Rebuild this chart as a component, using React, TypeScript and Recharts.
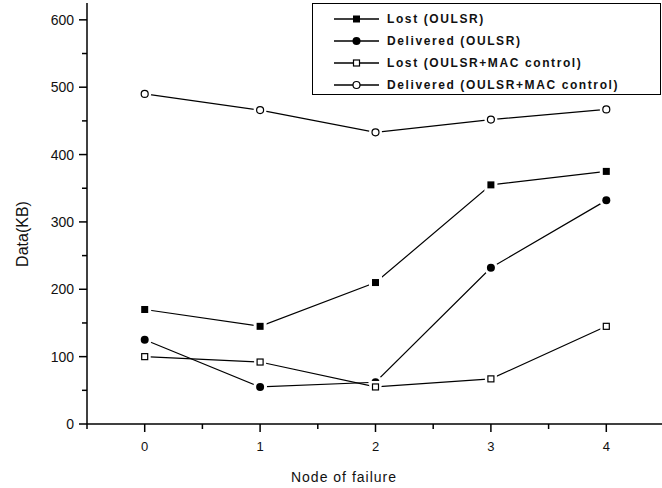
import { LineChart, Line, XAxis, YAxis, Legend } from 'recharts';

// Node of failure (x) and data amounts in KB
const nodes = [0, 1, 2, 3, 4];
const lostOulsr = [170, 145, 210, 355, 375];
const deliveredOulsr = [125, 55, 62, 232, 332];
const lostMac = [100, 92, 55, 67, 145];
const deliveredMac = [490, 466, 433, 452, 467];

const xTicks = [-0.5, 0, 0.5, 1, 1.5, 2, 2.5, 3, 3.5, 4, 4.5];
const yTicks = [0, 50, 100, 150, 200, 250, 300, 350, 400, 450, 500, 550, 600];

type MarkerKind = 'squareFilled' | 'circleFilled' | 'squareOpen' | 'circleOpen';

const series: { key: string; name: string; marker: MarkerKind }[] = [
  { key: 'lostOulsr', name: 'Lost (OULSR)', marker: 'squareFilled' },
  { key: 'deliveredOulsr', name: 'Delivered (OULSR)', marker: 'circleFilled' },
  { key: 'lostMac', name: 'Lost (OULSR+MAC control)', marker: 'squareOpen' },
  { key: 'deliveredMac', name: 'Delivered (OULSR+MAC control)', marker: 'circleOpen' },
];

const data = nodes.map((node, i) => ({
  node,
  lostOulsr: lostOulsr[i],
  deliveredOulsr: deliveredOulsr[i],
  lostMac: lostMac[i],
  deliveredMac: deliveredMac[i],
}));

const FONT = '"Liberation Sans", Arial, sans-serif';

function Marker({ kind, cx, cy, halo = true }: { kind: MarkerKind; cx: number; cy: number; halo?: boolean }) {
  const isSquare = kind === 'squareFilled' || kind === 'squareOpen';
  const filled = kind === 'squareFilled' || kind === 'circleFilled';
  const s = kind === 'squareFilled' ? 7 : kind === 'squareOpen' ? 6 : 0;
  const r = kind === 'circleFilled' ? 4 : 3.5;
  return (
    <g>
      {halo &&
        (isSquare ? (
          <rect x={cx - s / 2 - 3} y={cy - s / 2 - 3} width={s + 6} height={s + 6} fill="#fff" />
        ) : (
          <circle cx={cx} cy={cy} r={r + 3} fill="#fff" />
        ))}
      {isSquare ? (
        <rect
          x={cx - s / 2}
          y={cy - s / 2}
          width={s}
          height={s}
          fill={filled ? '#000' : '#fff'}
          stroke="#000"
          strokeWidth={filled ? 0 : 1.2}
        />
      ) : (
        <circle cx={cx} cy={cy} r={r} fill={filled ? '#000' : '#fff'} stroke="#000" strokeWidth={filled ? 0 : 1.2} />
      )}
    </g>
  );
}

const BottomTick = ({ x, y, payload }: any) => {
  const major = Number.isInteger(payload.value);
  return (
    <g>
      <line x1={x} x2={x} y1={y} y2={y + (major ? 8 : 5)} stroke="#000" strokeWidth={1.5} />
      {major && (
        <text x={x} y={y + 27} textAnchor="middle" fontSize={13} fontFamily={FONT} fill="#111">
          {payload.value}
        </text>
      )}
    </g>
  );
};

const TopTick = ({ x, y, payload }: any) => {
  const major = Number.isInteger(payload.value);
  return <line x1={x} x2={x} y1={y} y2={y + (major ? 8 : 5)} stroke="#000" strokeWidth={1.5} />;
};

const LeftTick = ({ x, y, payload }: any) => {
  const major = payload.value % 100 === 0;
  return (
    <g>
      <line x1={x - (major ? 8 : 5)} x2={x} y1={y} y2={y} stroke="#000" strokeWidth={1.5} />
      {major && (
        <text x={x - 13} y={y + 5} textAnchor="end" fontSize={14} fontFamily={FONT} fill="#111">
          {payload.value}
        </text>
      )}
    </g>
  );
};

const RightTick = ({ x, y, payload }: any) => {
  const major = payload.value % 100 === 0;
  return <line x1={x - (major ? 8 : 5)} x2={x} y1={y} y2={y} stroke="#000" strokeWidth={1.5} />;
};

const LegendBox = () => (
  <div
    style={{
      width: 349,
      height: 92,
      border: '1.5px solid #000',
      background: '#fff',
      boxSizing: 'border-box',
      paddingTop: 4,
    }}
  >
    {series.map((s) => (
      <div key={s.key} style={{ height: 22, display: 'flex', alignItems: 'center' }}>
        <svg width={74} height={22} style={{ flex: 'none' }}>
          <line x1={21} x2={66} y1={11} y2={11} stroke="#000" strokeWidth={1.5} />
          <Marker kind={s.marker} cx={43.5} cy={11} halo={false} />
        </svg>
        <span
          style={{
            fontFamily: FONT,
            fontSize: 12,
            fontWeight: 700,
            letterSpacing: 1.6,
            color: '#111',
            whiteSpace: 'nowrap',
          }}
        >
          {s.name}
        </span>
      </div>
    ))}
  </div>
);

const YLabel = () => (
  <text x={28} y={234} transform="rotate(-90 28 234)" textAnchor="middle" fontSize={16} fontFamily={FONT} fill="#111">
    Data(KB)
  </text>
);

const XLabel = () => (
  <text x={344} y={482} textAnchor="middle" fontSize={14} letterSpacing={1} fontFamily={FONT} fill="#111">
    Node of failure
  </text>
);

export default function App() {
  return (
    <div style={{ position: 'absolute', left: 0, top: 0, width: 662, height: 488, overflow: 'hidden', background: '#fff' }}>
      <LineChart width={664} height={488} data={data} margin={{ top: 3, right: 0, bottom: 0, left: 0 }}>
        <XAxis
          dataKey="node"
          type="number"
          domain={[-0.5, 4.5]}
          ticks={xTicks}
          interval={0}
          height={64}
          tickSize={0}
          tickMargin={0}
          tickLine={false}
          tick={BottomTick}
          axisLine={{ stroke: '#000', strokeWidth: 1.5 }}
          label={<XLabel />}
        />
        <XAxis
          xAxisId="top"
          orientation="top"
          dataKey="node"
          type="number"
          domain={[-0.5, 4.5]}
          ticks={xTicks}
          interval={0}
          height={0}
          tickSize={0}
          tickMargin={0}
          tickLine={false}
          tick={TopTick}
          axisLine={{ stroke: '#000', strokeWidth: 1.5 }}
        />
        <YAxis
          type="number"
          domain={[0, 625]}
          ticks={yTicks}
          interval={0}
          width={87}
          tickSize={0}
          tickMargin={0}
          tickLine={false}
          tick={LeftTick}
          axisLine={{ stroke: '#000', strokeWidth: 1.5 }}
          label={<YLabel />}
        />
        <YAxis
          yAxisId="right"
          orientation="right"
          type="number"
          domain={[0, 625]}
          ticks={yTicks}
          interval={0}
          width={0}
          tickSize={0}
          tickMargin={0}
          tickLine={false}
          tick={RightTick}
          axisLine={{ stroke: '#000', strokeWidth: 1.5 }}
        />
        {series.map((s) => (
          <Line
            key={s.key}
            dataKey={s.key}
            name={s.name}
            type="linear"
            stroke="#000"
            strokeWidth={1.2}
            isAnimationActive={false}
            dot={(p: any) => <Marker key={`${s.key}-${p.index}`} kind={s.marker} cx={p.cx} cy={p.cy} />}
            activeDot={false}
          />
        ))}
        <Legend
          layout="horizontal"
          verticalAlign="middle"
          align="center"
          content={<LegendBox />}
          wrapperStyle={{ position: 'absolute', top: 3, left: 312, width: 349, height: 92 }}
        />
      </LineChart>
    </div>
  );
}
